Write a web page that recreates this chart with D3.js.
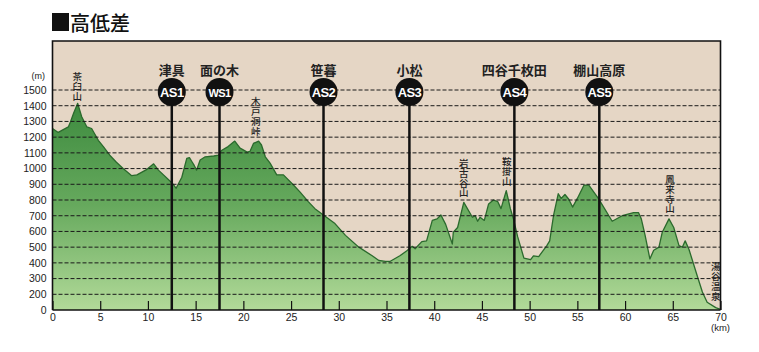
<!DOCTYPE html>
<html>
<head>
<meta charset="utf-8">
<script src="https://cdn.jsdelivr.net/npm/d3@7"></script>
<style>
  body { margin: 0; background: #fff; }
  svg { display: block; }
  text { font-family: "Liberation Sans", Arial, sans-serif; }
  .jp { font-family: "Noto Sans CJK JP", sans-serif; }
</style>
</head>
<body>
<div class="profile-chart"></div>
<script>
/* CONSTANTS AND GLOBALS */
const width = 759,
  height = 352,
  margin = { top: 41, bottom: 42, left: 52.5, right: 38.5 };

// distance (km) and elevation (m)
const distKm = [0, 0.6, 1.66, 1.9, 2.2, 2.64, 3.06, 3.6, 4.1, 4.8, 5.33, 6.0, 6.7, 7.4, 8.3, 8.85,
  9.9, 10.6, 11.1, 12.5, 12.95, 13.55, 14.07, 14.35, 14.6, 14.85, 15.1, 15.47, 16.0, 16.9, 17.4,
  17.7, 18.4, 19.1, 19.66, 20.4, 20.7, 21.06, 21.6, 21.9, 22.3, 22.8, 23.5, 24.2, 25.25, 25.95,
  26.8, 27.5, 28.6, 29.6, 30.7, 32.1, 33.5, 34.2, 34.9, 35.4, 36.4, 37.1, 37.7, 38.0, 38.7, 39.2,
  39.8, 40.3, 40.7, 41.2, 41.9, 42.0, 42.45, 43.1, 44.0, 44.3, 44.55, 44.8, 45.25, 45.7, 46.2,
  46.65, 47.0, 47.55, 47.98, 48.3, 48.75, 49.4, 50.1, 50.4, 50.95, 51.8, 52.1, 52.5, 53.0, 53.3,
  53.7, 54.1, 54.5, 55.0, 55.7, 56.2, 57.2, 58.65, 59.7, 60.9, 61.4, 61.7, 62.1, 62.6, 63.0,
  63.55, 63.9, 64.6, 65.1, 65.65, 66.0, 66.3, 66.7, 67.55, 68.1, 68.6, 69.5, 70];
const elevM = [1255, 1230, 1265, 1300, 1350, 1415, 1330, 1265, 1255, 1180, 1140, 1085, 1040, 1000, 955, 960,
  995, 1030, 990, 910, 875, 945, 1065, 1070, 1045, 1020, 990, 1055, 1075, 1080, 1085,
  1115, 1140, 1175, 1130, 1105, 1110, 1160, 1175, 1150, 1075, 1035, 960, 960, 895, 850,
  790, 745, 695, 650, 575, 500, 445, 415, 410, 410, 445, 475, 505, 490, 535, 540,
  670, 680, 705, 645, 520, 595, 625, 785, 690, 700, 665, 690, 670, 775, 800,
  790, 745, 860, 745, 680, 565, 430, 420, 445, 440, 510, 540, 700, 840, 810,
  835, 805, 755, 810, 895, 895, 810, 665, 700, 720, 720, 680, 575, 425, 480,
  500, 595, 680, 625, 510, 500, 540, 485, 320, 215, 98, 30, 8];

// aid stations
const stationKm = [12.5, 17.5, 28.4, 37.4, 48.4, 57.3];
const stationCodes = ["AS1", "WS1", "AS2", "AS3", "AS4", "AS5"];
const stationNames = ["津具", "面の木", "笹暮", "小松", "四谷千枚田", "棚山高原"];

// summits / passes written vertically (label top given in axis metres)
const peakNames = ["茶臼山", "木戸洞峠", "岩古谷山", "鞍掛山", "鳳来寺山", "湯谷温泉"];
const peakKm = [2.6, 21.3, 43.1, 47.6, 64.7, 69.5];
const peakTopM = [1615, 1455, 1061, 1074, 959, 405];

// axis ticks
const yTicks = [0, 200, 300, 400, 500, 600, 700, 800, 900, 1000, 1100, 1200, 1300, 1400, 1500];
const xTicks = [0, 5, 10, 15, 20, 25, 30, 35, 40, 45, 50, 55, 60, 65, 70];

const data = distKm.map((d, i) => ({ km: d, m: elevM[i] }));

/* SCALES */
const xScale = d3.scaleLinear()
  .domain([0, 70])
  .range([margin.left, width - margin.right]);

// axis has a break: "0" sits one step under 200
const yScale = d3.scaleLinear()
  .domain([0, 200, 1500])
  .range([height - margin.bottom, height - margin.bottom - 15.7, 90]);

const svg = d3.select(".profile-chart")
  .append("svg")
  .attr("width", width)
  .attr("height", height);

// title
svg.append("rect")
  .attr("x", 52).attr("y", 13)
  .attr("width", 17).attr("height", 18)
  .attr("fill", "#111");
svg.append("text")
  .attr("class", "jp")
  .attr("x", 70).attr("y", 31)
  .attr("font-size", 20)
  .attr("font-weight", 500)
  .attr("fill", "#111")
  .text("高低差");

const x0 = xScale(0), x1 = xScale(70), yBase = yScale(0);

// background
svg.append("rect")
  .attr("x", x0).attr("y", margin.top)
  .attr("width", x1 - x0).attr("height", yBase - margin.top)
  .attr("fill", "#e5d6c5");

// gradient
const grad = svg.append("defs").append("linearGradient")
  .attr("id", "green")
  .attr("gradientUnits", "userSpaceOnUse")
  .attr("x1", 0).attr("x2", 0)
  .attr("y1", 100).attr("y2", yBase);
grad.append("stop").attr("offset", 0).attr("stop-color", "#3c8a3e");
grad.append("stop").attr("offset", 0.5).attr("stop-color", "#66a95d");
grad.append("stop").attr("offset", 1).attr("stop-color", "#b2da99");

const area = d3.area()
  .x(d => xScale(d.km))
  .y0(yBase)
  .y1(d => yScale(d.m));

const line = d3.line()
  .x(d => xScale(d.km))
  .y(d => yScale(d.m));

svg.append("path")
  .datum(data)
  .attr("fill", "url(#green)")
  .attr("d", area);

svg.append("path")
  .datum(data)
  .attr("fill", "none")
  .attr("stroke", "#2b6a2d")
  .attr("stroke-width", 1.3)
  .attr("stroke-linejoin", "round")
  .attr("d", line);

// dashed grid
svg.selectAll("line.grid")
  .data(yTicks.filter(d => d > 0))
  .join("line")
  .attr("class", "grid")
  .attr("x1", x0).attr("x2", x1)
  .attr("y1", d => yScale(d)).attr("y2", d => yScale(d))
  .attr("stroke", "#1a1a1a")
  .attr("stroke-width", 1)
  .attr("stroke-dasharray", "4,2");

// x axis
svg.append("g")
  .attr("transform", `translate(0, ${yBase})`)
  .call(d3.axisBottom(xScale).tickValues(xTicks).tickSize(-9).tickPadding(4))
  .call(g => g.select(".domain").remove())
  .call(g => g.selectAll(".tick line").attr("stroke", "#111").attr("stroke-width", 1.2))
  .call(g => g.selectAll(".tick text").attr("font-size", 10.5).attr("fill", "#222")
    .attr("font-family", "'Liberation Sans', Arial, sans-serif"));

svg.append("text")
  .attr("x", x1).attr("y", 331)
  .attr("text-anchor", "middle")
  .attr("font-size", 9.5).attr("fill", "#222")
  .text("(km)");

// y axis
svg.append("g")
  .attr("transform", `translate(${x0}, 0)`)
  .call(d3.axisLeft(yScale).tickValues(yTicks).tickFormat(d3.format("d")).tickSize(0).tickPadding(6))
  .call(g => g.select(".domain").remove())
  .call(g => g.selectAll(".tick text").attr("font-size", 10.5).attr("fill", "#222")
    .attr("font-family", "'Liberation Sans', Arial, sans-serif"));

svg.append("text")
  .attr("x", 45).attr("y", 79)
  .attr("text-anchor", "end")
  .attr("font-size", 9).attr("fill", "#222")
  .text("(m)");

// aid stations
const stations = stationKm.map((d, i) => ({ km: d, code: stationCodes[i], name: stationNames[i] }));
const circleY = 92;

svg.selectAll("line.station")
  .data(stations)
  .join("line")
  .attr("class", "station")
  .attr("x1", d => xScale(d.km)).attr("x2", d => xScale(d.km))
  .attr("y1", circleY).attr("y2", yBase)
  .attr("stroke", "#111")
  .attr("stroke-width", 2.5);

svg.selectAll("circle.station")
  .data(stations)
  .join("circle")
  .attr("class", "station")
  .attr("cx", d => xScale(d.km)).attr("cy", circleY)
  .attr("r", 14)
  .attr("fill", "#111");

svg.selectAll("text.code")
  .data(stations)
  .join("text")
  .attr("class", "code")
  .attr("x", d => xScale(d.km)).attr("y", circleY + 4.5)
  .attr("text-anchor", "middle")
  .attr("font-family", "'Liberation Sans Narrow', 'Arial Narrow', sans-serif")
  .attr("font-weight", "bold")
  .attr("font-size", d => d.code === "WS1" ? 11 : 13)
  .attr("letter-spacing", -0.6)
  .attr("fill", "#fff")
  .text(d => d.code);

svg.selectAll("text.name")
  .data(stations)
  .join("text")
  .attr("class", "name jp")
  .attr("x", d => xScale(d.km)).attr("y", 75)
  .attr("text-anchor", "middle")
  .attr("font-weight", "bold")
  .attr("font-size", 13)
  .attr("fill", "#222")
  .text(d => d.name);

// vertical peak labels
const peaks = peakNames.map((d, i) => ({ name: d, km: peakKm[i], top: peakTopM[i] }));
svg.selectAll("text.peak")
  .data(peaks)
  .join("text")
  .attr("class", "peak jp")
  .attr("x", d => xScale(d.km))
  .attr("y", d => yScale(d.top))
  .attr("writing-mode", "vertical-rl")
  .style("text-orientation", "upright")
  .attr("text-anchor", "start")
  .attr("font-size", 9.5)
  .attr("font-weight", 500)
  .attr("letter-spacing", 0.2)
  .attr("fill", "#222")
  .text(d => d.name);

// frame
svg.append("path")
  .attr("d", `M${x0},${yBase}V${margin.top}H${x1}V${yBase}`)
  .attr("fill", "none")
  .attr("stroke", "#111")
  .attr("stroke-width", 1.6);

svg.append("line")
  .attr("x1", x0).attr("x2", x1)
  .attr("y1", yBase).attr("y2", yBase)
  .attr("stroke", "#111")
  .attr("stroke-width", 1.6);
</script>
</body>
</html>
